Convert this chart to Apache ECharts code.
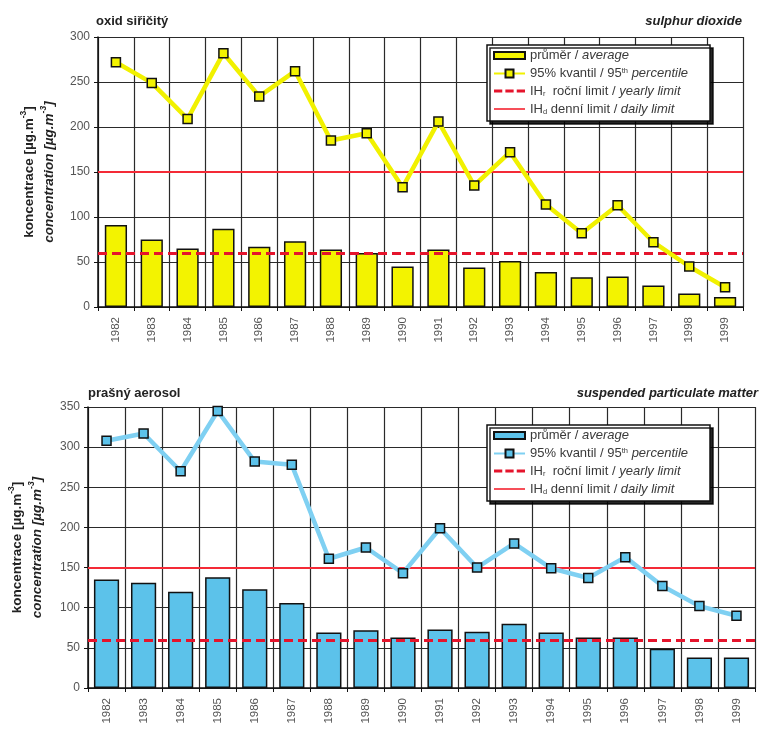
<!DOCTYPE html>
<html>
<head>
<meta charset="utf-8">
<script src="https://cdn.jsdelivr.net/npm/echarts@6/dist/echarts.min.js"></script>
<style>
  html, body { margin: 0; padding: 0; background: #fff; }
  #chart { width: 760px; height: 733px; }
</style>
</head>
<body>
<div id="chart"></div>
<script>
// Years on the category axis
const years = ['1982','1983','1984','1985','1986','1987','1988','1989','1990',
               '1991','1992','1993','1994','1995','1996','1997','1998','1999'];

// Sulphur dioxide, µg/m3
const so2Average      = [91, 75, 65, 87, 67, 73, 64, 60, 45, 64, 44, 51, 39, 33, 34, 24, 15, 11];
const so2Percentile95 = [272, 249, 209, 282, 234, 262, 185, 193, 133, 206, 135, 172, 114, 82, 113, 72, 45, 22];

// Suspended particulate matter, µg/m3
const spmAverage      = [135, 131, 120, 138, 123, 106, 69, 72, 63, 73, 70, 80, 69, 63, 63, 49, 38, 38];
const spmPercentile95 = [308, 317, 270, 345, 282, 278, 161, 175, 143, 199, 150, 180, 149, 137, 163, 127, 102, 90];

// Limit values (yearly IHr, daily IHd)
const yearlyLimit = 60;
const dailyLimit  = 150;

// Value axis ranges: [min, max, interval]
const so2Scale = [0, 300, 50];
const spmScale = [0, 350, 50];

const FONT = "'Liberation Sans', Arial, sans-serif";
const GRID_LINE = '#2a2a2a';
const RED_DASH = '#e5142c';
const RED_SOLID = '#f42a36';

// Legend keys: a dashed bar and a thin solid bar, drawn as paths
const DASH_ICON  = 'path://M0,0H8V3H0Z M11,0H19V3H11Z M22,0H30V3H22Z';
const SOLID_ICON = 'path://M0,0H30V1.6H0Z';

const legendText = {
  avg:    '{n|průměr / }{i|average}',
  p95:    '{n|95% kvantil / 95}{sup|th}{i| percentile}',
  yearly: '{n|IH}{sub|r}{n|  roční limit / }{i|yearly limit}',
  daily:  '{n|IH}{sub|d}{n| denní limit / }{i|daily limit}'
};

const legendRich = {
  n:   { fontFamily: FONT, fontSize: 13, color: '#3a3a3a', lineHeight: 14 },
  i:   { fontFamily: FONT, fontSize: 13, color: '#3a3a3a', fontStyle: 'italic', lineHeight: 14 },
  sup: { fontFamily: FONT, fontSize: 7.5, color: '#3a3a3a', verticalAlign: 'top', lineHeight: 14 },
  sub: { fontFamily: FONT, fontSize: 7.5, color: '#3a3a3a', verticalAlign: 'bottom', lineHeight: 12 }
};

const axisNameRich = {
  a:  { fontFamily: FONT, fontSize: 13.5, fontWeight: 'bold', color: '#222' },
  as: { fontFamily: FONT, fontSize: 8.5, fontWeight: 'bold', color: '#222', verticalAlign: 'top' },
  b:  { fontFamily: FONT, fontSize: 13.5, fontWeight: 'bold', fontStyle: 'italic', color: '#222' },
  bs: { fontFamily: FONT, fontSize: 8.5, fontWeight: 'bold', fontStyle: 'italic', color: '#222', verticalAlign: 'top' }
};

function xAxisFor(gridIndex) {
  return {
    type: 'category',
    gridIndex,
    data: years,
    boundaryGap: true,
    axisLine: { show: true, lineStyle: { color: '#111', width: 1.5 } },
    axisTick: { show: true, length: 4, lineStyle: { color: '#111' } },
    axisLabel: { rotate: 90, interval: 0, margin: 10, fontFamily: FONT, fontSize: 11.5, color: '#555' },
    splitLine: { show: true, interval: 0, lineStyle: { color: GRID_LINE, width: 1.2 } }
  };
}

function yAxisFor(gridIndex, scale, nameGap) {
  return {
    type: 'value',
    gridIndex,
    min: scale[0],
    max: scale[1],
    interval: scale[2],
    name: '{a|koncentrace [µg.m}{as|-3}{a|]}\n{b|concentration [µg.m}{bs|-3}{b|]}',
    nameLocation: 'middle',
    nameRotate: 90,
    nameGap,
    nameMoveOverlap: false,
    nameTextStyle: { rich: axisNameRich, lineHeight: 20 },
    axisLine: { show: true, lineStyle: { color: '#111', width: 1.5 } },
    axisTick: { show: true, length: 4, lineStyle: { color: '#111' } },
    axisLabel: { margin: 8, fontFamily: FONT, fontSize: 12, color: '#555' },
    splitLine: { show: true, lineStyle: { color: GRID_LINE, width: 1.2 } }
  };
}

function seriesFor(idx, prefix, avg, p95, colors) {
  return [
    {
      name: prefix + 'avg', type: 'bar', xAxisIndex: idx, yAxisIndex: idx,
      data: avg, barWidth: colors.barWidth, z: 2,
      itemStyle: { color: colors.bar, borderColor: '#111', borderWidth: 1.5 }
    },
    {
      name: prefix + 'p95', type: 'line', xAxisIndex: idx, yAxisIndex: idx,
      data: p95, symbol: 'rect', symbolSize: 9, z: 6,
      color: colors.line,
      lineStyle: { color: colors.line, width: 4.5 },
      itemStyle: { color: colors.marker, borderColor: '#111', borderWidth: 1.5 }
    },
    {
      name: prefix + 'yearly', type: 'line', xAxisIndex: idx, yAxisIndex: idx,
      data: [], symbol: 'none', color: RED_DASH,
      itemStyle: { color: RED_DASH },
      lineStyle: { color: RED_DASH, width: 3, type: [9, 5] },
      markLine: {
        silent: true, symbol: 'none', z: 4, label: { show: false },
        lineStyle: { color: RED_DASH, width: 3, type: [9, 5] },
        data: [{ yAxis: yearlyLimit }]
      }
    },
    {
      name: prefix + 'daily', type: 'line', xAxisIndex: idx, yAxisIndex: idx,
      data: [], symbol: 'none', color: RED_SOLID,
      itemStyle: { color: RED_SOLID },
      lineStyle: { color: RED_SOLID, width: 1.8 },
      markLine: {
        silent: true, symbol: 'none', z: 4, label: { show: false },
        lineStyle: { color: RED_SOLID, width: 1.8, type: 'solid' },
        data: [{ yAxis: dailyLimit }]
      }
    }
  ];
}

function legendFor(prefix, top) {
  return {
    orient: 'vertical',
    left: 487,
    top,
    itemWidth: 31,
    itemHeight: 10,
    itemGap: 4.5,
    padding: [4, 22, 5, 6],
    backgroundColor: '#fff',
    borderColor: '#111',
    borderWidth: 1.5,
    borderRadius: 0,
    shadowColor: 'rgba(0,0,0,0.85)',
    shadowBlur: 0,
    shadowOffsetX: 3,
    shadowOffsetY: 3,
    selectedMode: false,
    data: [
      { name: prefix + 'avg', icon: 'path://M0,0H31V7H0Z' },
      { name: prefix + 'p95' },
      { name: prefix + 'yearly', icon: DASH_ICON },
      { name: prefix + 'daily', icon: SOLID_ICON }
    ],
    formatter: name => legendText[name.slice(prefix.length)],
    textStyle: { rich: legendRich }
  };
}

const titleBold = { fontFamily: FONT, fontSize: 13, fontWeight: 'bold', color: '#222' };
const titleBoldItalic = Object.assign({}, titleBold, { fontStyle: 'italic' });

const chart = echarts.init(document.getElementById('chart'), null, { renderer: 'canvas' });
chart.setOption({
  backgroundColor: '#fff',
  animation: false,
  title: [
    { text: 'oxid siřičitý', left: 96, top: 15, padding: 0, textStyle: titleBold },
    { text: 'sulphur dioxide', right: 18, top: 15, padding: 0, textStyle: titleBoldItalic },
    { text: 'prašný aerosol', left: 88, top: 387, padding: 0, textStyle: titleBold },
    { text: 'suspended particulate matter', right: 2, top: 387, padding: 0, textStyle: titleBoldItalic }
  ],
  grid: [
    { left: 98, right: 17, top: 37, height: 270, outerBoundsMode: 'none' },
    { left: 88, right: 5, top: 407, height: 281, outerBoundsMode: 'none' }
  ],
  xAxis: [xAxisFor(0), xAxisFor(1)],
  yAxis: [yAxisFor(0, so2Scale, 39), yAxisFor(1, spmScale, 41)],
  legend: [legendFor('so2-', 45), legendFor('spm-', 425)],
  series: [
    ...seriesFor(0, 'so2-', so2Average, so2Percentile95,
      { bar: '#f3f300', line: '#f1f100', marker: '#f3f300', barWidth: '62%' }),
    ...seriesFor(1, 'spm-', spmAverage, spmPercentile95,
      { bar: '#5cc2ea', line: '#7fd0f2', marker: '#5cc2ea', barWidth: '68%' })
  ]
});
</script>
</body>
</html>
